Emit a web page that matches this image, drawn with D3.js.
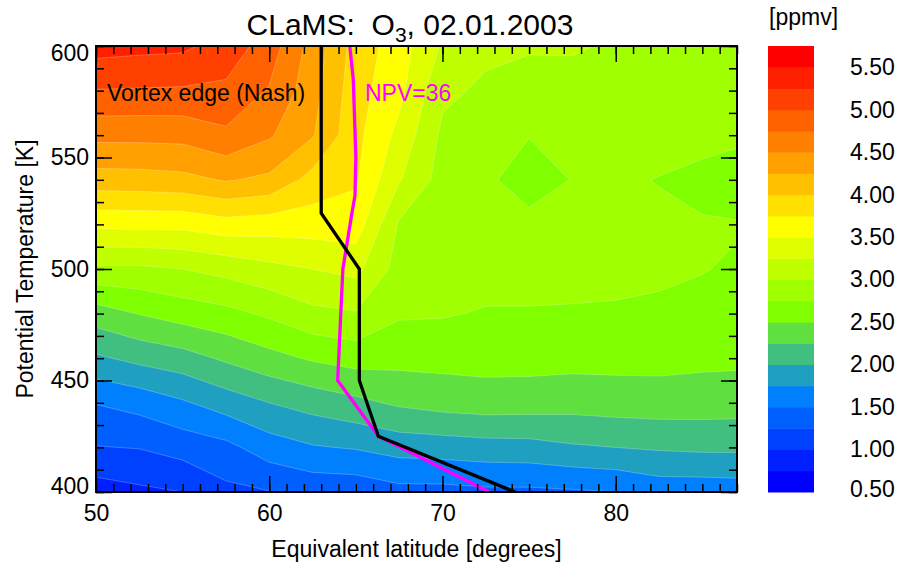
<!DOCTYPE html>
<html>
<head>
<meta charset="utf-8">
<script src="https://cdn.jsdelivr.net/npm/d3@7"></script>
<style>
  body { margin: 0; background: #fff; }
  svg { font-family: "Liberation Sans", Arial, sans-serif; }
</style>
</head>
<body>
<div id="chart"></div>
<script>
// grille : latitude equivalente (colonnes) x temperature potentielle (lignes)
const lats = [50, 52.5, 55, 57.5, 60, 62.5, 65, 67.5, 70, 72.5, 75, 77.5, 80, 82.5, 85, 87.5];
const thetas = [400, 420, 440, 460, 480, 500, 520, 540, 560, 580, 600];

// O3 [ppmv], une ligne par niveau theta (400 -> 600 K)
const o3 = [
  [0.88, 0.95, 1.00, 1.19, 1.24, 1.32, 1.33, 1.42, 1.42, 1.45, 1.45, 1.47, 1.50, 1.60, 1.60, 1.62],
  [1.24, 1.26, 1.35, 1.43, 1.63, 1.73, 1.77, 1.85, 1.87, 1.90, 1.91, 1.97, 2.00, 2.03, 2.05, 2.05],
  [1.51, 1.59, 1.72, 1.87, 2.00, 2.10, 2.19, 2.29, 2.35, 2.38, 2.37, 2.35, 2.37, 2.38, 2.37, 2.36],
  [1.96, 2.07, 2.15, 2.29, 2.42, 2.53, 2.60, 2.58, 2.58, 2.59, 2.59, 2.58, 2.58, 2.58, 2.56, 2.55],
  [2.38, 2.51, 2.61, 2.68, 2.79, 2.94, 2.98, 2.78, 2.77, 2.73, 2.73, 2.73, 2.72, 2.70, 2.68, 2.65],
  [2.95, 2.95, 3.00, 3.08, 3.18, 3.25, 3.32, 2.90, 2.86, 2.85, 2.85, 2.82, 2.82, 2.80, 2.76, 2.71],
  [3.56, 3.57, 3.57, 3.65, 3.62, 3.62, 3.64, 2.97, 2.88, 2.85, 2.83, 2.82, 2.82, 2.80, 2.77, 2.76],
  [4.14, 4.15, 4.18, 4.27, 4.20, 3.91, 3.78, 3.27, 2.90, 2.80, 2.62, 2.76, 2.79, 2.74, 2.68, 2.62],
  [4.57, 4.57, 4.58, 4.70, 4.53, 4.27, 3.82, 3.43, 2.95, 2.88, 2.76, 2.84, 2.86, 2.86, 2.83, 2.79],
  [4.99, 4.98, 4.97, 4.95, 4.73, 4.35, 3.85, 3.57, 3.05, 2.96, 2.92, 2.93, 2.91, 2.90, 2.89, 2.88],
  [5.35, 5.32, 5.30, 5.15, 4.88, 4.40, 3.90, 3.62, 3.22, 3.05, 3.02, 3.02, 2.98, 2.96, 2.95, 2.95]
];

// niveaux des contours et couleurs
const levels = [0.5, 0.75, 1.0, 1.25, 1.5, 1.75, 2.0, 2.25, 2.5, 2.75, 3.0,
                3.25, 3.5, 3.75, 4.0, 4.25, 4.5, 4.75, 5.0, 5.25, 5.5];
const levelColors = ['#0000ff', '#0020ff', '#0040ff', '#0060ff', '#0080ff', '#20a0c0', '#40bf80',
                     '#60df40', '#80ff00', '#a0ff00', '#bfff00', '#dfff00', '#ffff00', '#ffe000',
                     '#ffc000', '#ffa000', '#ff8000', '#ff6000', '#ff4000', '#ff2000', '#ff0000'];
const cbTicks = [0.5, 1.0, 1.5, 2.0, 2.5, 3.0, 3.5, 4.0, 4.5, 5.0, 5.5];

// bord du vortex (Nash) et isoligne NPV=36
const nashLat = [63.0, 63.0, 65.2, 65.2, 66.3, 74.2];
const nashTheta = [600, 525, 500, 450, 425, 400];
const npvLat = [64.65, 64.85, 65.0, 64.95, 64.75, 64.25, 63.95, 66.3, 72.7];
const npvTheta = [600, 585, 550, 533, 524, 500, 450, 425, 400];

const width = 898, height = 563;
const pLeft = 96, pRight = 737, pTop = 46, pBottom = 492;

const svg = d3.select('#chart').append('svg')
  .attr('width', width)
  .attr('height', height);

const x = d3.scaleLinear().domain([50, 87]).range([pLeft, pRight]);
const y = d3.scaleLinear().domain([400, 600]).range([pBottom, pTop]);

svg.append('clipPath').attr('id', 'plot-clip')
  .append('rect')
  .attr('x', pLeft + 1).attr('y', pTop)
  .attr('width', pRight - pLeft - 1).attr('height', pBottom - pTop);

// contours remplis
const dLat = lats[1] - lats[0];
const dTh = thetas[1] - thetas[0];
const proj = d3.geoTransform({
  point: function(px, py) {
    this.stream.point(x(lats[0] + (px - 0.5) * dLat), y(thetas[0] + (py - 0.5) * dTh));
  }
});
const path = d3.geoPath(proj);
const bands = d3.contours()
  .size([lats.length, thetas.length])
  .thresholds(levels)(o3.flat());

const field = svg.append('g').attr('clip-path', 'url(#plot-clip)');
field.selectAll('path.band')
  .data(bands)
  .enter().append('path')
  .attr('class', 'band')
  .attr('d', path)
  .attr('fill', (d, i) => levelColors[i])
  .attr('stroke', '#ffffff')
  .attr('stroke-opacity', 0.3)
  .attr('stroke-width', 0.8);

// lignes
const line = d3.line().x(d => x(d[0])).y(d => y(d[1]));
field.append('path')
  .attr('d', line(npvLat.map((v, i) => [v, npvTheta[i]])))
  .attr('fill', 'none')
  .attr('stroke', '#ff00ff')
  .attr('stroke-width', 3.3);
field.append('path')
  .attr('d', line(nashLat.map((v, i) => [v, nashTheta[i]])))
  .attr('fill', 'none')
  .attr('stroke', '#000')
  .attr('stroke-width', 3.3);

svg.append('text')
  .attr('x', 107).attr('y', 101)
  .attr('font-size', 23)
  .attr('fill', '#000')
  .text('Vortex edge (Nash)');
svg.append('text')
  .attr('x', 365).attr('y', 101)
  .attr('font-size', 23)
  .attr('fill', '#ff00ff')
  .text('NPV=36');

// axes (graduations vers l'interieur sur les quatre cotes)
const latMinor = d3.range(50, 88, 1);
const latMajor = [50, 60, 70, 80];
const thMinor = d3.range(400, 601, 10);
const thMajor = [400, 450, 500, 550, 600];

function styleAxis(g) {
  g.select('.domain').remove();
  g.selectAll('line').attr('stroke', '#000').attr('stroke-width', 1.5);
  g.attr('font-size', 23).attr('font-family', '"Liberation Sans", Arial, sans-serif');
  g.selectAll('text').attr('fill', '#000');
}

svg.append('g').attr('transform', `translate(0,${pBottom})`)
  .call(d3.axisBottom(x).tickValues(latMinor).tickSize(-8).tickFormat(''))
  .call(styleAxis);
svg.append('g').attr('transform', `translate(0,${pBottom})`)
  .call(d3.axisBottom(x).tickValues(latMajor).tickSize(-16).tickPadding(13).tickFormat(d3.format('d')))
  .call(styleAxis);
svg.append('g').attr('transform', `translate(0,${pTop})`)
  .call(d3.axisTop(x).tickValues(latMinor).tickSize(-8).tickFormat(''))
  .call(styleAxis);
svg.append('g').attr('transform', `translate(0,${pTop})`)
  .call(d3.axisTop(x).tickValues(latMajor).tickSize(-16).tickFormat(''))
  .call(styleAxis);

svg.append('g').attr('transform', `translate(${pLeft},0)`)
  .call(d3.axisLeft(y).tickValues(thMinor).tickSize(-8).tickFormat(''))
  .call(styleAxis);
const yAxis = svg.append('g').attr('transform', `translate(${pLeft},0)`)
  .call(d3.axisLeft(y).tickValues(thMajor).tickSize(-16).tickPadding(7).tickFormat(d3.format('d')))
  .call(styleAxis);
yAxis.selectAll('text').filter(d => d === 600).attr('y', 7);
yAxis.selectAll('text').filter(d => d === 400).attr('y', -6);
svg.append('g').attr('transform', `translate(${pRight},0)`)
  .call(d3.axisRight(y).tickValues(thMinor).tickSize(-8).tickFormat(''))
  .call(styleAxis);
svg.append('g').attr('transform', `translate(${pRight},0)`)
  .call(d3.axisRight(y).tickValues(thMajor).tickSize(-16).tickFormat(''))
  .call(styleAxis);

// cadre
svg.append('rect')
  .attr('x', pLeft).attr('y', pTop)
  .attr('width', pRight - pLeft).attr('height', pBottom - pTop)
  .attr('fill', 'none')
  .attr('stroke', '#000')
  .attr('stroke-width', 2);

// titres
const title = svg.append('text')
  .attr('x', 410).attr('y', 35)
  .attr('text-anchor', 'middle')
  .attr('font-size', 30)
  .style('white-space', 'pre');
title.append('tspan').text('CLaMS:  O');
title.append('tspan').attr('font-size', 21).attr('dy', 7).text('3');
title.append('tspan').attr('dy', -7).text(', 02.01.2003');

svg.append('text')
  .attr('x', (pLeft + pRight) / 2).attr('y', 557)
  .attr('text-anchor', 'middle')
  .attr('font-size', 23)
  .text('Equivalent latitude [degrees]');

svg.append('text')
  .attr('transform', `translate(33,${(pTop + pBottom) / 2}) rotate(-90)`)
  .attr('text-anchor', 'middle')
  .attr('font-size', 23)
  .text('Potential Temperature [K]');

// barre de couleurs
const cbLeft = 768, cbWidth = 46;
const cy = d3.scaleLinear().domain([0.5, 5.75]).range([pBottom, pTop]);
const cb = svg.append('g');
cb.selectAll('rect')
  .data(levels)
  .enter().append('rect')
  .attr('x', cbLeft)
  .attr('y', d => cy(d + 0.25))
  .attr('width', cbWidth)
  .attr('height', d => cy(d) - cy(d + 0.25) + 0.5)
  .attr('fill', (d, i) => levelColors[i]);

const cbAxis = svg.append('g').attr('transform', `translate(${cbLeft + cbWidth},0)`)
  .call(d3.axisRight(cy).tickValues(cbTicks).tickSize(0).tickPadding(36).tickFormat(d3.format('.2f')))
  .call(styleAxis);
cbAxis.selectAll('text').filter(d => d === 0.5).attr('y', -3);

svg.append('text')
  .attr('x', 769).attr('y', 25)
  .attr('font-size', 23)
  .text('[ppmv]');
</script>
</body>
</html>
